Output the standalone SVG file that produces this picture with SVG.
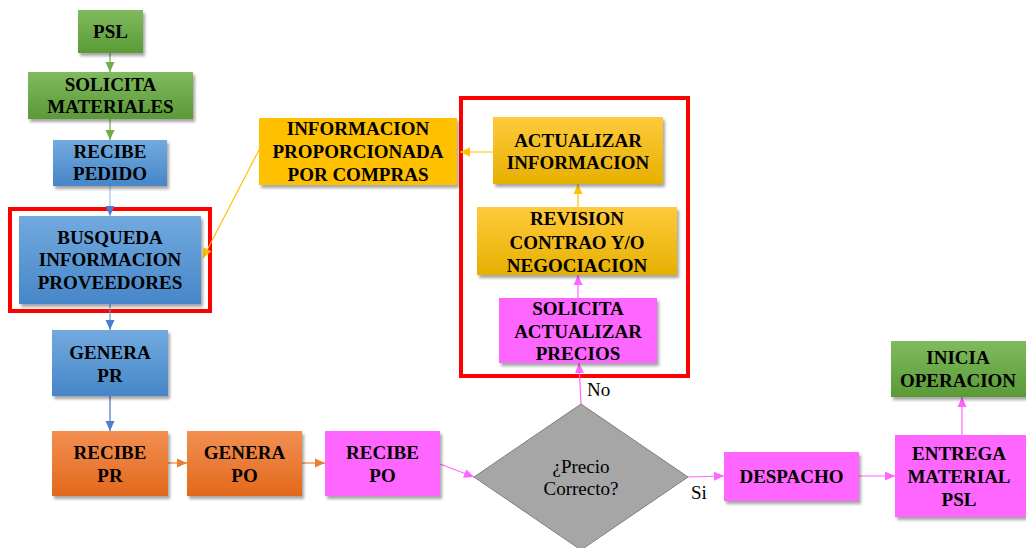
<svg xmlns="http://www.w3.org/2000/svg" width="1026" height="548" viewBox="0 0 1026 548">
<defs>
<linearGradient id="gGreen" x1="0" y1="0" x2="0" y2="1"><stop offset="0" stop-color="#80ba5e"/><stop offset="1" stop-color="#5a9a36"/></linearGradient>
<linearGradient id="gBlue" x1="0" y1="0" x2="0" y2="1"><stop offset="0" stop-color="#72aadf"/><stop offset="1" stop-color="#4686c8"/></linearGradient>
<linearGradient id="gOrange" x1="0" y1="0" x2="0" y2="1"><stop offset="0" stop-color="#f38f52"/><stop offset="1" stop-color="#e2691c"/></linearGradient>
<linearGradient id="gYellow" x1="0" y1="0" x2="0" y2="1"><stop offset="0" stop-color="#ffca3c"/><stop offset="1" stop-color="#e6b000"/></linearGradient>
<filter id="sh" x="-10%" y="-10%" width="125%" height="130%"><feDropShadow dx="2" dy="3" stdDeviation="1.8" flood-color="#000" flood-opacity="0.35"/></filter>
<marker id="aGreen" markerUnits="userSpaceOnUse" markerWidth="10" markerHeight="10" viewBox="0 0 10 10" refX="10" refY="5" orient="auto"><path d="M0,0.5 L10,5 L0,9.5 Z" fill="#70ad47"/></marker>
<marker id="aBlue" markerUnits="userSpaceOnUse" markerWidth="10" markerHeight="10" viewBox="0 0 10 10" refX="10" refY="5" orient="auto"><path d="M0,0.5 L10,5 L0,9.5 Z" fill="#4a7fcf"/></marker>
<marker id="aOrange" markerUnits="userSpaceOnUse" markerWidth="10" markerHeight="10" viewBox="0 0 10 10" refX="10" refY="5" orient="auto"><path d="M0,0.5 L10,5 L0,9.5 Z" fill="#ed7d31"/></marker>
<marker id="aYellow" markerUnits="userSpaceOnUse" markerWidth="10" markerHeight="10" viewBox="0 0 10 10" refX="10" refY="5" orient="auto"><path d="M0,0.5 L10,5 L0,9.5 Z" fill="#ffc000"/></marker>
<marker id="aPink" markerUnits="userSpaceOnUse" markerWidth="10" markerHeight="10" viewBox="0 0 10 10" refX="10" refY="5" orient="auto"><path d="M0,0.5 L10,5 L0,9.5 Z" fill="#ff66ff"/></marker>
</defs>
<style>
.t{font-weight:bold;font-size:19px;fill:#000;text-anchor:middle}
.r{font-size:19px;fill:#000}
.c{fill:none;stroke-width:1.2}
.green{fill:url(#gGreen)}
.blue{fill:url(#gBlue)}
.orange{fill:url(#gOrange)}
.yellow{fill:url(#gYellow)}
.pink{fill:#ff66ff}
.box{filter:url(#sh)}
.redbox{fill:none;stroke:#ff0000;stroke-width:4}
</style>
<rect width="1026" height="548" fill="#ffffff"/>
<g id="highlights">
<rect class="redbox" x="10" y="209" width="200" height="102"/>
<rect class="redbox" x="461" y="98" width="227" height="278"/>
</g>

<g id="connectors">
<line class="c" x1="110" y1="53" x2="110" y2="72" stroke="#70ad47" marker-end="url(#aGreen)"/>
<line class="c" x1="110" y1="119" x2="110" y2="140" stroke="#70ad47" marker-end="url(#aGreen)"/>
<line class="c" x1="110" y1="186" x2="110" y2="216" stroke="#9dc3e6" marker-end="url(#aBlue)"/>
<line class="c" x1="110" y1="304" x2="110" y2="330" stroke="#5b9bd5" marker-end="url(#aBlue)"/>
<line class="c" x1="110" y1="396" x2="110" y2="431" stroke="#4472c4" marker-end="url(#aBlue)"/>
<line class="c" x1="168" y1="463" x2="187" y2="463" stroke="#ed7d31" marker-end="url(#aOrange)"/>
<line class="c" x1="302" y1="463" x2="325" y2="463" stroke="#ed7d31" marker-end="url(#aOrange)"/>
<line class="c" x1="440" y1="464" x2="474" y2="477" stroke="#ff66ff" marker-end="url(#aPink)"/>
<line class="c" x1="581" y1="404" x2="579" y2="363" stroke="#ff66ff" marker-end="url(#aPink)"/>
<line class="c" x1="578" y1="298" x2="578" y2="275" stroke="#ff66ff" marker-end="url(#aPink)"/>
<line class="c" x1="578" y1="207" x2="578" y2="184" stroke="#ffc000" marker-end="url(#aYellow)"/>
<line class="c" x1="493" y1="152" x2="460" y2="152" stroke="#ffc000" marker-end="url(#aYellow)"/>
<line class="c" x1="259" y1="150" x2="203" y2="258" stroke="#ffc000" marker-end="url(#aYellow)"/>
<line class="c" x1="688" y1="477" x2="724" y2="476" stroke="#ff66ff" marker-end="url(#aPink)"/>
<line class="c" x1="859" y1="476" x2="895" y2="476" stroke="#ff66ff" marker-end="url(#aPink)"/>
<line class="c" x1="962" y1="435" x2="962" y2="397" stroke="#ff66ff" marker-end="url(#aPink)"/>
<text class="r" font-family="Liberation Serif, serif" x="587" y="396">No</text>
<text class="r" font-family="Liberation Serif, serif" x="691" y="499">Si</text>
</g>

<g id="psl">
<rect class="box green" x="78" y="10" width="65" height="43"/>
<text class="t" font-family="Liberation Serif, serif" x="110.5" y="38">PSL</text>
</g>
<g id="solicita-materiales">
<rect class="box green" x="28" y="72" width="165" height="47"/>
<text class="t" font-family="Liberation Serif, serif" x="110.5" y="91">SOLICITA</text>
<text class="t" font-family="Liberation Serif, serif" x="110.5" y="113">MATERIALES</text>
</g>
<g id="recibe-pedido">
<rect class="box blue" x="53" y="140" width="114" height="46"/>
<text class="t" font-family="Liberation Serif, serif" x="110" y="158">RECIBE</text>
<text class="t" font-family="Liberation Serif, serif" x="110" y="180">PEDIDO</text>
</g>
<g id="busqueda">
<rect class="box blue" x="19" y="216" width="182" height="88"/>
<text class="t" font-family="Liberation Serif, serif" x="110" y="244">BUSQUEDA</text>
<text class="t" font-family="Liberation Serif, serif" x="110" y="266">INFORMACION</text>
<text class="t" font-family="Liberation Serif, serif" x="110" y="289">PROVEEDORES</text>
</g>
<g id="genera-pr">
<rect class="box blue" x="52" y="330" width="116" height="66"/>
<text class="t" font-family="Liberation Serif, serif" x="110" y="359">GENERA</text>
<text class="t" font-family="Liberation Serif, serif" x="110" y="382">PR</text>
</g>
<g id="recibe-pr">
<rect class="box orange" x="52" y="431" width="116" height="65"/>
<text class="t" font-family="Liberation Serif, serif" x="110" y="459">RECIBE</text>
<text class="t" font-family="Liberation Serif, serif" x="110" y="482">PR</text>
</g>
<g id="genera-po">
<rect class="box orange" x="187" y="431" width="115" height="65"/>
<text class="t" font-family="Liberation Serif, serif" x="244.5" y="459">GENERA</text>
<text class="t" font-family="Liberation Serif, serif" x="244.5" y="482">PO</text>
</g>
<g id="recibe-po">
<rect class="box pink" x="325" y="431" width="115" height="65"/>
<text class="t" font-family="Liberation Serif, serif" x="382.5" y="459">RECIBE</text>
<text class="t" font-family="Liberation Serif, serif" x="382.5" y="482">PO</text>
</g>
<g id="precio-correcto">
<polygon points="581,404 688,477 581,550 474,477" fill="#a6a6a6" stroke="#7f7f7f" stroke-width="1"/>
<text class="r" font-family="Liberation Serif, serif" x="581" y="473" text-anchor="middle">¿Precio</text>
<text class="r" font-family="Liberation Serif, serif" x="581" y="495" text-anchor="middle">Correcto?</text>
</g>
<g id="solicita-actualizar">
<rect class="box pink" x="499" y="298" width="158" height="65"/>
<text class="t" font-family="Liberation Serif, serif" x="578" y="315">SOLICITA</text>
<text class="t" font-family="Liberation Serif, serif" x="578" y="338">ACTUALIZAR</text>
<text class="t" font-family="Liberation Serif, serif" x="578" y="360">PRECIOS</text>
</g>
<g id="revision">
<rect class="box yellow" x="477" y="207" width="200" height="68"/>
<text class="t" font-family="Liberation Serif, serif" x="577" y="225">REVISION</text>
<text class="t" font-family="Liberation Serif, serif" x="577" y="249">CONTRAO Y/O</text>
<text class="t" font-family="Liberation Serif, serif" x="577" y="272">NEGOCIACION</text>
</g>
<g id="actualizar-informacion">
<rect class="box yellow" x="493" y="117" width="170" height="67"/>
<text class="t" font-family="Liberation Serif, serif" x="578" y="147">ACTUALIZAR</text>
<text class="t" font-family="Liberation Serif, serif" x="578" y="169">INFORMACION</text>
</g>
<g id="informacion-proporcionada">
<rect class="box" x="259" y="118" width="198" height="67" fill="#ffc000"/>
<text class="t" font-family="Liberation Serif, serif" x="358" y="135">INFORMACION</text>
<text class="t" font-family="Liberation Serif, serif" x="358" y="158">PROPORCIONADA</text>
<text class="t" font-family="Liberation Serif, serif" x="358" y="181">POR COMPRAS</text>
</g>
<g id="despacho">
<rect class="box pink" x="724" y="452" width="135" height="49"/>
<text class="t" font-family="Liberation Serif, serif" x="791.5" y="483">DESPACHO</text>
</g>
<g id="entrega-material">
<rect class="box pink" x="895" y="435" width="131" height="82"/>
<text class="t" font-family="Liberation Serif, serif" x="959" y="460">ENTREGA</text>
<text class="t" font-family="Liberation Serif, serif" x="959" y="483">MATERIAL</text>
<text class="t" font-family="Liberation Serif, serif" x="959" y="506">PSL</text>
</g>
<g id="inicia-operacion">
<rect class="box green" x="891" y="341" width="135" height="56"/>
<text class="t" font-family="Liberation Serif, serif" x="958" y="364">INICIA</text>
<text class="t" font-family="Liberation Serif, serif" x="958" y="387">OPERACION</text>
</g>
</svg>
